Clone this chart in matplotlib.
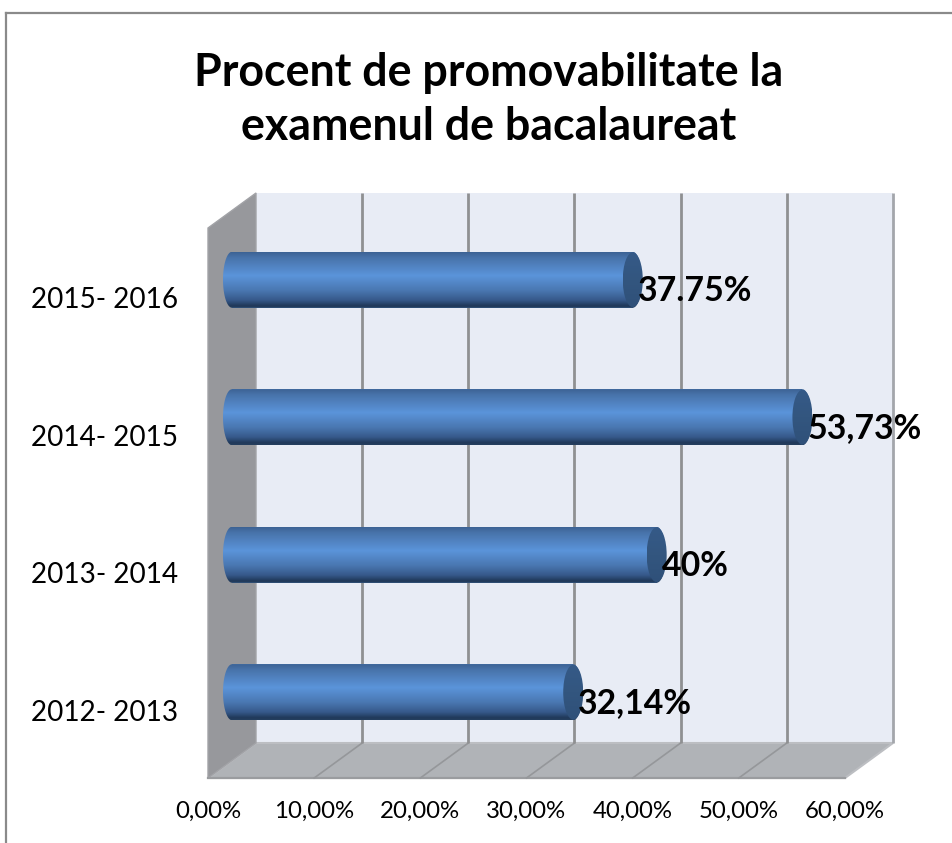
import numpy as np
import matplotlib
matplotlib.use("Agg")
import matplotlib.pyplot as plt
from matplotlib.colors import LinearSegmentedColormap
from matplotlib.lines import Line2D
from matplotlib.patches import Ellipse, Polygon
from matplotlib.transforms import ScaledTranslation

# ---- data ----
periods = ["2012- 2013", "2013- 2014", "2014- 2015", "2015- 2016"]
values = [32.14, 40.0, 53.73, 37.75]
value_labels = ["32,14%", "40%", "53,73%", "37.75%"]
x_ticks = [0, 10, 20, 30, 40, 50, 60]
x_tick_labels = ["0,00%", "10,00%", "20,00%", "30,00%", "40,00%", "50,00%", "60,00%"]
title = "Procent de promovabilitate la\nexamenul de bacalaureat"

# ---- layout ----
W, H = 953, 843
plt.rcParams["font.family"] = ["Lato", "DejaVu Sans"]
fig = plt.figure(figsize=(W / 100, H / 100), dpi=100, facecolor="white")
ax = fig.add_axes([256 / W, 1 - 743 / H, 637 / W, 550 / H], facecolor="#e8ecf5")
XMAX, YMIN, YMAX = 60, -0.5, 3.5
PX_X, PX_Y = 637 / XMAX, 550 / (YMAX - YMIN)
DEPTH_X, DEPTH_Y = 48, 35


def px(dx, dy):
    return ScaledTranslation(dx / 100, dy / 100, fig.dpi_scale_trans)


def depth(v, y, d):
    """Data coordinates of (v, y) moved forward by fraction d of the floor depth."""
    return v - d * DEPTH_X / PX_X, y - d * DEPTH_Y / PX_Y


# ---- side wall and floor ----
ax.add_patch(Polygon([depth(0, YMIN, 1), depth(XMAX, YMIN, 1), depth(XMAX, YMIN, 0), depth(0, YMIN, 0)],
                     closed=True, fc="#b0b3b7", ec="#bcbec2", lw=1.5, clip_on=False, zorder=1))
ax.add_patch(Polygon([depth(0, YMIN, 1), depth(0, YMAX, 1), depth(0, YMAX, 0), depth(0, YMIN, 0)],
                     closed=True, fc="#97989c", ec="#a2a3a7", lw=1, clip_on=False, zorder=1.2))
ax.plot(*zip(depth(0, YMIN, 1), depth(XMAX, YMIN, 1)), color="#9a9c9f", lw=1.6, clip_on=False, zorder=1.3)

# ---- grid ----
for v in x_ticks[1:]:
    ax.plot([v, v], [YMIN, YMAX], color="#8f9092" if v < XMAX else "#a3a6ab", lw=2.0, zorder=1.5,
            clip_on=False, solid_capstyle="butt")
    if v < XMAX:
        ax.plot(*zip(depth(v, YMIN, 0), depth(v, YMIN, 1)), color="#95979a", lw=1.2, clip_on=False, zorder=1.4)

# ---- cylinders ----
bar_h = 56 / PX_Y
body_cmap = LinearSegmentedColormap.from_list(
    "body",
    [(0, "#3c6294"), (0.10, "#4873aa"), (0.42, "#5b94da"), (0.68, "#4a78b2"),
     (0.86, "#36598a"), (0.96, "#20395a"), (1, "#26405f")],
)
cap_cmap = LinearSegmentedColormap.from_list("cap", ["#355a88", "#33567f", "#2f5079"])
grad = np.linspace(0, 1, 256).reshape(-1, 1)
tr_front = ax.transData + px(-24, -18)
end_w = 10 / PX_X
theta = np.linspace(0, np.pi, 60)

for i, (val, lab) in enumerate(zip(values, value_labels)):
    ax.barh(i, val, height=bar_h, color="#4a78b2", transform=tr_front, zorder=3, clip_on=False)
    top, bottom = i + bar_h / 2, i - bar_h / 2
    outline = np.vstack([
        np.column_stack([-end_w * 0.9 * np.sin(theta), i + bar_h / 2 * np.cos(theta)]),
        np.column_stack([val + end_w * 0.9 * np.sin(theta), i - bar_h / 2 * np.cos(theta)]),
    ])
    shape = Polygon(outline, closed=True, transform=tr_front, fc="none", ec="none", clip_on=False)
    ax.add_patch(shape)
    im = ax.imshow(grad, cmap=body_cmap, extent=(-2, val + 2, bottom, top), origin="upper",
                   aspect="auto", transform=tr_front, zorder=3.2)
    im.set_clip_box(fig.bbox)
    im.set_clip_path(shape)
    cap = Ellipse((val, i), 2 * end_w, bar_h * 0.98, transform=tr_front, fc="none", ec="none", clip_on=False)
    ax.add_patch(cap)
    im2 = ax.imshow(grad, cmap=cap_cmap, extent=(val - end_w, val + end_w, bottom, top), origin="upper",
                    aspect="auto", transform=tr_front, zorder=3.4)
    im2.set_clip_box(fig.bbox)
    im2.set_clip_path(cap)
    ax.annotate(lab, xy=(val, i), xycoords=tr_front, xytext=(5 * 0.72, -11 * 0.72), textcoords="offset points",
                ha="left", va="center", fontsize=24.4, fontweight="bold", color="black", zorder=6,
                annotation_clip=False)

# ---- axes ----
ax.set_xlim(0, XMAX)
ax.set_ylim(YMIN, YMAX)
for s in ax.spines.values():
    s.set_visible(False)
ax.set_xticks(x_ticks, x_tick_labels)
ax.set_yticks(range(len(periods)), periods)
ax.tick_params(axis="both", length=0, pad=0, labelcolor="black")
ax.tick_params(axis="x", labelsize=17.3)
ax.tick_params(axis="y", labelsize=20.1)
for t in ax.get_xticklabels():
    t.set_transform(t.get_transform() + px(-48, -58))
for t in ax.get_yticklabels():
    t.set_transform(t.get_transform() + px(-78, -36))

fig.suptitle(title, x=489 / W, y=1 - 100 / H, ha="center", va="center",
             fontsize=32.2, fontweight="bold", linespacing=1.36, color="black")

# ---- chart frame ----
fig.add_artist(Line2D([6 / W, 1], [1 - 13 / H, 1 - 13 / H], color="#8a8a8a", lw=1.6, transform=fig.transFigure))
fig.add_artist(Line2D([6 / W, 6 / W], [0, 1 - 13 / H], color="#8a8a8a", lw=1.6, transform=fig.transFigure))

fig.savefig("out.png", dpi=100, facecolor="white")
